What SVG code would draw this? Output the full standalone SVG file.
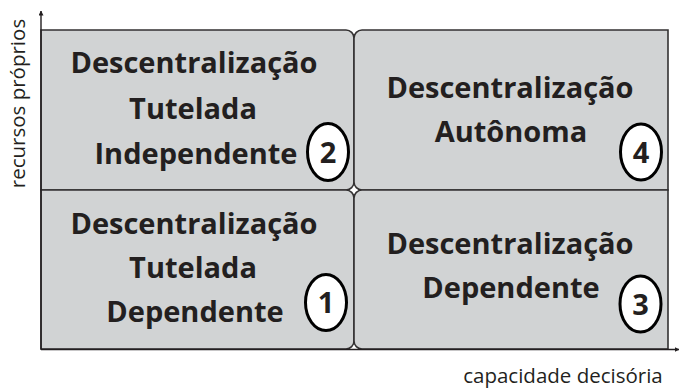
<svg xmlns="http://www.w3.org/2000/svg" width="679" height="391" viewBox="0 0 679 391">
  <defs>
    <style>
      .box { fill: #d1d3d4; stroke: #333132; stroke-width: 1.6; }
      .t { font-family: "Open Sans", "Liberation Sans", sans-serif; font-weight: bold; font-size: 29px; fill: #231f20; text-anchor: middle; }
      .num { font-family: "Open Sans", "Liberation Sans", sans-serif; font-weight: bold; font-size: 29px; fill: #231f20; text-anchor: middle; }
      .badge { fill: #ffffff; stroke: #000000; stroke-width: 3; }
      .axis { stroke: #231f20; stroke-width: 1.4; fill: none; }
      .lab { font-family: "Open Sans", "Liberation Sans", sans-serif; font-size: 20.5px; fill: #231f20; text-anchor: middle; }
    </style>
    <marker id="arr" viewBox="0 0 10 10" refX="9" refY="5" markerWidth="5" markerHeight="5" orient="auto" markerUnits="userSpaceOnUse">
      <path d="M0,0 L10,5 L0,10 Z" fill="#231f20"/>
    </marker>
  </defs>

  <g id="node-2">
    <path class="box" d="M41,30 H346 A8,8 0 0 1 354,38 V182 A8,8 0 0 1 346,190 H41 Z"/>
    <text class="t" x="194" y="73">Descentralização</text>
    <text class="t" x="193" y="119">Tutelada</text>
    <text class="t" x="196" y="164">Independente</text>
    <ellipse class="badge" cx="328" cy="152" rx="20.5" ry="28.5"/>
    <text class="num" x="328" y="162.5">2</text>
  </g>

  <g id="node-4">
    <path class="box" d="M362,30 H668 V190 H362 A8,8 0 0 1 354,182 V38 A8,8 0 0 1 362,30 Z"/>
    <text class="t" x="510" y="98">Descentralização</text>
    <text class="t" x="511" y="142">Autônoma</text>
    <ellipse class="badge" cx="641" cy="152" rx="20.5" ry="28"/>
    <text class="num" x="641" y="162.5">4</text>
  </g>

  <g id="node-1">
    <path class="box" d="M41,190 H346 A8,8 0 0 1 354,198 V341 A8,8 0 0 1 346,349 H41 Z"/>
    <text class="t" x="194" y="234">Descentralização</text>
    <text class="t" x="193" y="278">Tutelada</text>
    <text class="t" x="195" y="322">Dependente</text>
    <ellipse class="badge" cx="326" cy="302.5" rx="20.5" ry="28"/>
    <text class="num" x="326" y="313">1</text>
  </g>

  <g id="node-3">
    <path class="box" d="M362,190 H668 V349 H362 A8,8 0 0 1 354,341 V198 A8,8 0 0 1 362,190 Z"/>
    <text class="t" x="510" y="254">Descentralização</text>
    <text class="t" x="511" y="298">Dependente</text>
    <ellipse class="badge" cx="640.5" cy="304" rx="20.5" ry="28"/>
    <text class="num" x="640.5" y="314.5">3</text>
  </g>

  <g id="connectors">
    <line class="axis" x1="41" y1="349.5" x2="41" y2="11" marker-end="url(#arr)"/>
    <line class="axis" x1="41" y1="349.5" x2="679" y2="349.5" marker-end="url(#arr)"/>
  </g>

  <text class="lab" transform="translate(25,103.5) rotate(-90)">recursos próprios</text>
  <text class="lab" x="563" y="383">capacidade decisória</text>
</svg>
